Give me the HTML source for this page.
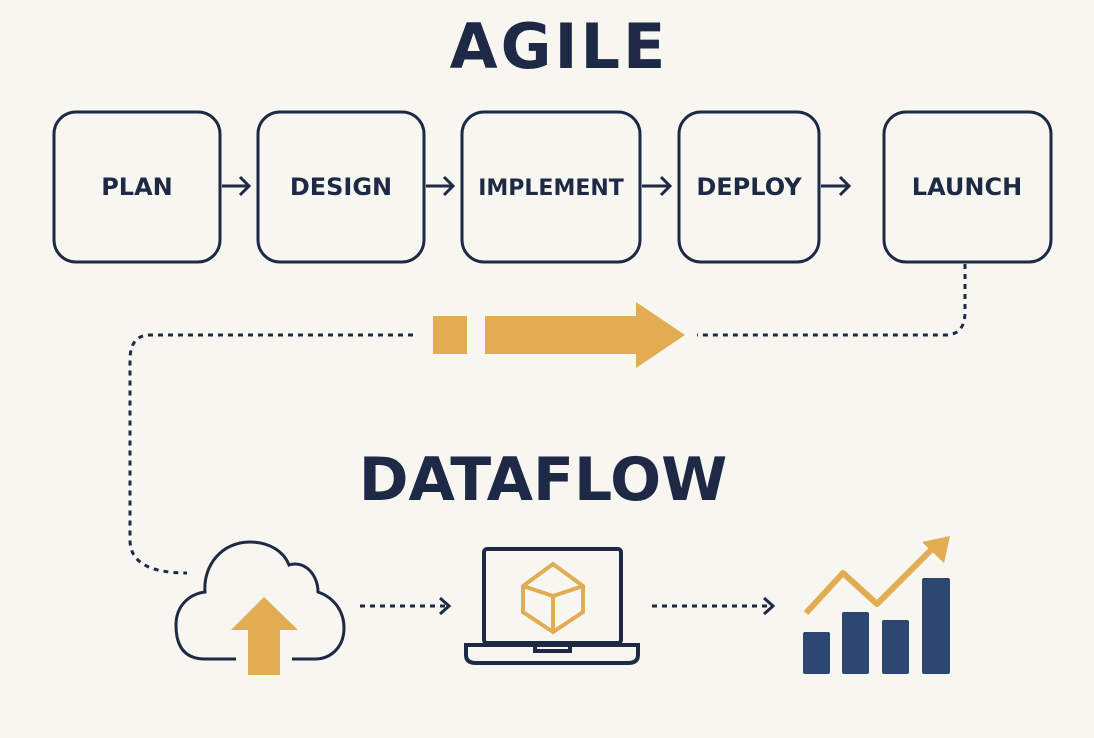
<!DOCTYPE html>
<html><head><style>
body{margin:0;background:#f7f6f1;}
svg{display:block}
text{font-family:"DejaVu Sans","Liberation Sans",sans-serif;fill:#1e2a45;font-weight:bold}
</style></head><body>
<svg width="1094" height="738" viewBox="0 0 1094 738">
<text x="559" y="68" font-size="62" text-anchor="middle" letter-spacing="3">AGILE</text>
<text x="543" y="500" font-size="60" text-anchor="middle">DATAFLOW</text>
<g fill="none" stroke="#1e2a45" stroke-width="3">
<rect x="54" y="112" width="166" height="150" rx="22"/>
<rect x="258" y="112" width="166" height="150" rx="22"/>
<rect x="462" y="112" width="178" height="150" rx="22"/>
<rect x="679" y="112" width="140" height="150" rx="22"/>
<rect x="884" y="112" width="167" height="150" rx="22"/>
<path d="M222 186h26M240 177l9 9-9 9M426 186h26M444 177l9 9-9 9M642 186h27M661 177l9 9-9 9M821 186h27M840 177l9 9-9 9"/>
</g>
<g font-size="24" text-anchor="middle" style="font-weight:normal">
<text x="137" y="195">PLAN</text>
<text x="341" y="195">DESIGN</text>
<text x="551" y="195" font-size="22">IMPLEMENT</text>
<text x="749" y="195">DEPLOY</text>
<text x="967" y="195">LAUNCH</text>
</g>
<g fill="none" stroke="#1e2a45" stroke-width="3" stroke-dasharray="5 5">
<path d="M965 264V312Q965 335 945 335H697"/>
<path d="M413 335H150Q130 335 130 360V540Q130 573 187 573"/>
<path d="M360 606H450M652 606H772"/>
</g>
<g fill="none" stroke="#1e2a45" stroke-width="3"><path d="M440 598l9 8-9 8M764 598l9 8-9 8"/></g>
<g fill="#e2ac52">
<rect x="433" y="316" width="34" height="38"/>
<path d="M485 316H636V302L685 335 636 368V354H485Z"/>
<path d="M231 630L264 597 298 630H280V675H248V630Z"/>
</g>
<path d="M236 659H205C180 659 176 640 176 625C176 605 190 594 205 592C203 565 222 542 250 542C270 542 284 552 289 565C305 560 318 575 318 592C335 598 344 612 344 628C344 648 330 659 315 659H292" fill="none" stroke="#1e2a45" stroke-width="3"/>
<g fill="none" stroke="#1e2a45" stroke-width="4">
<rect x="484" y="549" width="137" height="94" rx="3"/>
<path d="M466 645H638V655Q638 663 628 663H476Q466 663 466 655Z"/>
<path d="M535 645V651H570V645"/>
</g>
<g fill="none" stroke="#e2ac52" stroke-width="4">
<path d="M553 564L583 586V612L553 632 523 612V586Z"/>
<path d="M523 586L553 596 583 586M553 596V632"/>
</g>
<g fill="#2c4870">
<rect x="803" y="632" width="27" height="42" rx="2"/>
<rect x="842" y="612" width="27" height="62" rx="2"/>
<rect x="882" y="620" width="27" height="54" rx="2"/>
<rect x="922" y="578" width="28" height="96" rx="2"/>
</g>
<path d="M806 613L843 573 877 604 935 546" fill="none" stroke="#e2ac52" stroke-width="6" stroke-linejoin="round"/>
<path d="M922 542L950 536 944 563Z" fill="#e2ac52"/>
</svg>
</body></html>
